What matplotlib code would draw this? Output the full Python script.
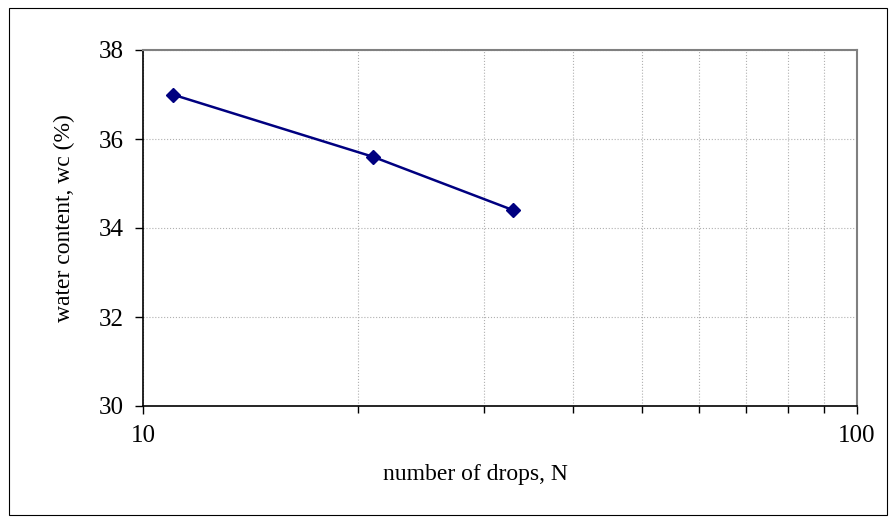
import numpy as np
import matplotlib.pyplot as plt
from matplotlib.patches import Rectangle
from matplotlib.ticker import FixedLocator, NullFormatter

drops = [11, 21, 33]
water = [37.0, 35.6, 34.4]
xticks = [10, 100]
yticks = [30, 32, 34, 36, 38]

plt.rcParams['font.family'] = ['Liberation Serif', 'DejaVu Serif']

fig = plt.figure(figsize=(8.93, 5.21), dpi=100)
ax = fig.add_axes([143/893, 1-406/521, 714/893, 356/521])

# figure border
fig.patches.append(Rectangle((9/893, 1-515/521), 878/893, 507/521,
                             transform=fig.transFigure, fill=False,
                             edgecolor='black', linewidth=0.8))

ax.plot(drops, water, color='#000080', linewidth=1.8, marker='D',
        markersize=7, markerfacecolor='#000080', markeredgecolor='#000080')

ax.set_xscale('log')
ax.set_xlim(10, 100)
ax.set_ylim(30, 38)
ax.xaxis.set_major_locator(FixedLocator(xticks))
ax.set_xticklabels([str(t) for t in xticks])
ax.xaxis.set_minor_locator(FixedLocator(np.arange(20, 100, 10)))
ax.xaxis.set_minor_formatter(NullFormatter())
ax.set_yticks(yticks)

ax.grid(True, which='both', axis='x', color='#b0b0b0', linestyle=':', linewidth=0.8)
ax.grid(True, which='major', axis='y', color='#b0b0b0', linestyle=':', linewidth=0.8)

for s in ['top', 'right']:
    ax.spines[s].set_color('#808080')
    ax.spines[s].set_linewidth(1.5)
for s in ['left', 'bottom']:
    ax.spines[s].set_color('black')
    ax.spines[s].set_linewidth(1.2)

ax.tick_params(which='major', direction='out', length=6, width=1, labelsize=18, pad=8)
ax.tick_params(which='minor', direction='out', length=5, width=1)

ax.set_xlabel('number of drops, N', fontsize=17)
ax.xaxis.set_label_coords(0.466, -0.163)
ax.set_ylabel('water content, wc (%)', fontsize=17)
ax.yaxis.set_label_coords(-0.095, 0.528)

fig.savefig('out.png', dpi=100)
